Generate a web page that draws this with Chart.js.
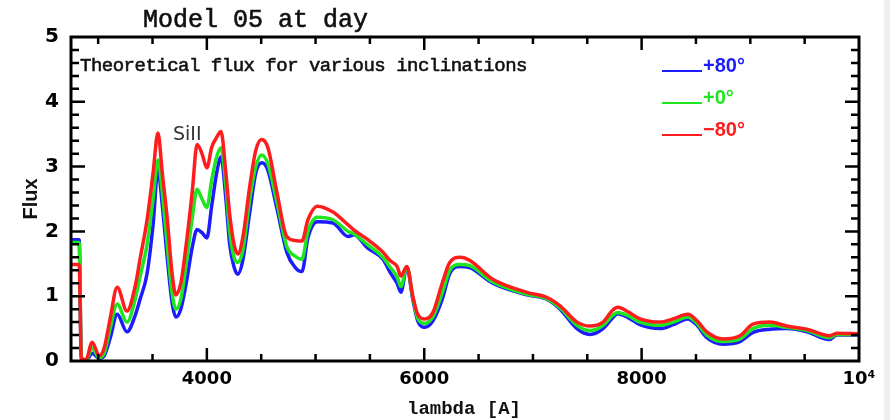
<!DOCTYPE html>
<html>
<head>
<meta charset="utf-8">
<title>Model 05 flux</title>
<script src="https://cdn.jsdelivr.net/npm/chart.js@4.4.1/dist/chart.umd.min.js"></script>
<style>
  html, body { margin: 0; padding: 0; background: #fff; }
  canvas { display: block; }
</style>
</head>
<body>
<canvas id="flux" width="890" height="420"></canvas>
<script>
// wavelength grid in Angstrom, shared by the three inclinations
const lambda = [
  2750, 2825, 2845, 2890, 2945, 3010, 3055, 3110, 3175, 3265,
  3340, 3385, 3450, 3505, 3550, 3590, 3635, 3680, 3715, 3760,
  3810, 3865, 3910, 3955, 4000, 4045, 4090, 4130, 4175, 4210,
  4250, 4285, 4330, 4395, 4450, 4505, 4560, 4645, 4735, 4810,
  4875, 4930, 5015, 5160, 5300, 5355, 5475, 5620, 5685, 5750,
  5785, 5840, 5895, 5940, 6005, 6080, 6165, 6235, 6330, 6420,
  6630, 6945, 7130, 7250, 7405, 7525, 7645, 7730, 7780, 7875,
  7985, 8170, 8290, 8425, 8510, 8600, 8750, 8905, 9025, 9180,
  9335, 9520, 9730, 9795, 10000
];

const fluxPlus80 = [
  1.87, 1.87, 0.05, 0.01, 0.12, 0.04, 0.08, 0.35, 0.72, 0.45,
  0.70, 0.95, 1.35, 2.10, 2.95, 2.40, 1.60, 0.90, 0.68, 0.80,
  1.20, 1.75, 2.03, 1.98, 1.90, 2.40, 2.90, 3.15, 2.50, 1.80,
  1.45, 1.34, 1.55, 2.30, 2.90, 3.06, 2.95, 2.35, 1.68, 1.45,
  1.38, 1.90, 2.15, 2.13, 1.92, 1.95, 1.75, 1.57, 1.37, 1.20,
  1.06, 1.45, 0.95, 0.62, 0.52, 0.62, 0.95, 1.35, 1.46, 1.44,
  1.20, 1.02, 0.95, 0.80, 0.50, 0.41, 0.50, 0.66, 0.73, 0.67,
  0.56, 0.50, 0.56, 0.65, 0.55, 0.36, 0.26, 0.30, 0.44, 0.49,
  0.50, 0.45, 0.33, 0.40, 0.40
];

const fluxZero = [
  1.83, 1.83, 0.04, 0.02, 0.20, 0.05, 0.12, 0.50, 0.88, 0.60,
  0.95, 1.30, 1.80, 2.50, 3.10, 2.60, 1.80, 1.05, 0.80, 0.95,
  1.50, 2.20, 2.65, 2.50, 2.37, 2.80, 3.15, 3.29, 2.70, 2.00,
  1.60, 1.52, 1.70, 2.50, 3.00, 3.18, 3.05, 2.45, 1.77, 1.62,
  1.57, 2.00, 2.22, 2.18, 2.00, 1.96, 1.80, 1.60, 1.45, 1.30,
  1.15, 1.45, 0.98, 0.66, 0.58, 0.68, 1.05, 1.40, 1.49, 1.47,
  1.22, 1.03, 0.96, 0.82, 0.55, 0.47, 0.55, 0.70, 0.75, 0.70,
  0.60, 0.55, 0.60, 0.68, 0.58, 0.40, 0.30, 0.34, 0.50, 0.55,
  0.52, 0.47, 0.36, 0.41, 0.41
];

const fluxMinus80 = [
  1.49, 1.49, 0.02, 0.03, 0.29, 0.08, 0.20, 0.65, 1.14, 0.77,
  1.15, 1.57, 2.18, 2.90, 3.52, 2.90, 2.20, 1.35, 1.02, 1.20,
  1.80, 2.60, 3.34, 3.20, 2.98, 3.30, 3.45, 3.54, 2.90, 2.26,
  1.80, 1.65, 1.90, 2.70, 3.25, 3.42, 3.30, 2.60, 1.92, 1.86,
  1.85, 2.18, 2.39, 2.30, 2.10, 2.02, 1.88, 1.68, 1.55, 1.46,
  1.31, 1.46, 1.00, 0.72, 0.65, 0.75, 1.20, 1.52, 1.60, 1.55,
  1.26, 1.06, 0.98, 0.85, 0.60, 0.54, 0.60, 0.78, 0.83, 0.76,
  0.65, 0.60, 0.65, 0.72, 0.62, 0.45, 0.34, 0.39, 0.57, 0.60,
  0.54, 0.49, 0.39, 0.43, 0.42
];

const seriesLabels = ['+80\u00b0', '+0\u00b0', '\u221280\u00b0'];
const seriesColors = ['#1c1cff', '#1ee61e', '#ff1c1c'];

const xLabelTicks = [4000, 6000, 8000, 10000];
const yLabelTicks = [0, 1, 2, 3, 4, 5];

function toPoints(ys){
    return lambda.map((x, i) => ({ x, y: ys[i] }));
}

// fill plus a thin outline so the mono text reads heavier
function heavyText(c, text, x, y, w){
    c.fillText(text, x, y);
    c.lineWidth = w;
    c.strokeText(text, x, y);
}

// IDL-style box: frame plus inward major/minor ticks on all four sides
const boxTicks = {
    id: 'boxTicks',
    beforeDraw(chart){
        const c = chart.ctx;
        c.save();
        c.fillStyle = '#ffffff';
        c.fillRect(0, 0, chart.width, chart.height);
        c.fillStyle = '#efefef';
        c.fillRect(884, 0, chart.width - 884, chart.height);
        c.restore();
    },
    afterDatasetsDraw(chart){
        const c = chart.ctx;
        const a = chart.chartArea;
        const xs = chart.scales.x, ys = chart.scales.y;
        c.save();
        c.strokeStyle = '#000';
        c.lineWidth = 2.5;
        c.beginPath();
        for(let v = 3000; v < 10000; v += 500){
            const px = xs.getPixelForValue(v);
            const len = (v % 2000 === 0) ? 13 : 7;
            c.moveTo(px, a.bottom); c.lineTo(px, a.bottom - len);
            c.moveTo(px, a.top); c.lineTo(px, a.top + len);
        }
        for(let k = 1; k < 25; k++){
            const v = k * 0.2;
            const py = ys.getPixelForValue(v);
            const len = (k % 5 === 0) ? 14 : 8;
            c.moveTo(a.left, py); c.lineTo(a.left + len, py);
            c.moveTo(a.right, py); c.lineTo(a.right - len, py);
        }
        c.stroke();
        c.lineWidth = 3;
        c.strokeRect(a.left, a.top, a.right - a.left, a.bottom - a.top);
        c.restore();
    },
    afterDraw(chart){
        const c = chart.ctx;
        c.save();
        c.fillStyle = '#111';
        c.strokeStyle = '#111';
        c.textBaseline = 'alphabetic';
        c.textAlign = 'left';

        c.font = '25px "Liberation Mono"';
        heavyText(c, 'Model 05 at day', 143, 27, 0.6);

        c.font = '19px "Liberation Mono"';
        c.letterSpacing = '-0.5px';
        heavyText(c, 'Theoretical flux for various inclinations', 80, 71, 0.6);
        c.letterSpacing = '0px';

        c.font = 'bold 19px "Liberation Mono"';
        c.fillText('lambda [A]', 407, 414);

        c.save();
        c.translate(37, 199);
        c.rotate(-Math.PI / 2);
        c.textAlign = 'center';
        c.font = 'bold 20px "Liberation Sans"';
        c.fillText('Flux', 0, 0);
        c.restore();

        c.fillStyle = '#333';
        c.font = '19px "DejaVu Sans"';
        c.fillText('SiII', 173, 140);

        // legend
        const rows = [71, 103, 135];
        c.font = 'bold 20px "Liberation Sans"';
        chart.data.datasets.forEach((ds) => {
            const y = rows[ds.legendRow];
            c.strokeStyle = ds.borderColor;
            c.lineWidth = 2;
            c.beginPath();
            c.moveTo(662, y); c.lineTo(702, y);
            c.stroke();
            c.fillStyle = ds.borderColor;
            c.fillText(ds.label, 703, y + 1);
        });
        c.restore();
    }
};

function attachFluxChart(canvasEl){
    if(!canvasEl || !canvasEl.getContext) return;
    const ctx = canvasEl.getContext('2d');

    if(Chart.getChart(canvasEl)){
        Chart.getChart(canvasEl).destroy();
    }

    const series = [fluxPlus80, fluxZero, fluxMinus80];
    const datasets = series.map((ys, i) => ({
        label: seriesLabels[i],
        data: toPoints(ys),
        borderColor: seriesColors[i],
        borderWidth: 3.5,
        pointRadius: 0,
        fill: false,
        cubicInterpolationMode: 'monotone',
        order: 2 - i,
        legendRow: i
    }));

    try{
        return new Chart(ctx, {
            type: 'line',
            data: { datasets },
            options: {
                responsive: false,
                animation: false,
                devicePixelRatio: 1,
                layout: { padding: { top: 37, right: 31, left: 0, bottom: 0 } },
                plugins: { legend: { display: false }, title: { display: false }, tooltip: { enabled: false } },
                scales: {
                    x: {
                        type: 'linear',
                        min: 2750,
                        max: 10000,
                        grid: { display: false, drawTicks: false },
                        border: { display: false },
                        afterFit(s){ s.height = 59; },
                        afterBuildTicks(s){ s.ticks = xLabelTicks.map(v => ({ value: v })); },
                        ticks: {
                            autoSkip: false,
                            maxRotation: 0,
                            padding: 8,
                            color: '#000',
                            font: { family: 'DejaVu Sans', weight: 'bold', size: 18 },
                            callback: v => v === 10000 ? '10\u2074' : String(v)
                        }
                    },
                    y: {
                        min: 0,
                        max: 5,
                        grid: { display: false, drawTicks: false },
                        border: { display: false },
                        afterFit(s){ s.width = 71; },
                        afterBuildTicks(s){ s.ticks = yLabelTicks.map(v => ({ value: v })); },
                        ticks: {
                            padding: 12,
                            color: '#000',
                            font: { family: 'DejaVu Sans', weight: 'bold', size: 20 }
                        }
                    }
                }
            },
            plugins: [boxTicks]
        });
    } catch(e){
        console.error("Error creating flux chart:", e);
        return null;
    }
}

attachFluxChart(document.getElementById('flux'));
</script>
</body>
</html>
